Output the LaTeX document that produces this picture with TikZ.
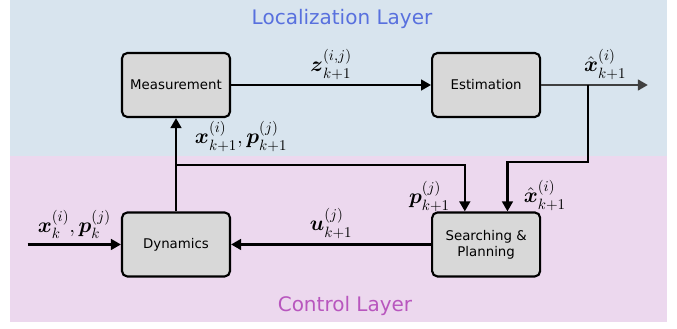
\RequirePackage{fix-cm}
\documentclass[tikz,border=0pt]{standalone}
\usepackage{fontspec}
\usepackage{amsmath}
\setsansfont{DejaVu Sans}
\usetikzlibrary{positioning,arrows.meta,calc}
\definecolor{locbg}{RGB}{216,228,238}
\definecolor{ctrlbg}{RGB}{236,216,238}
\definecolor{loctext}{RGB}{88,112,222}
\definecolor{ctrltext}{RGB}{184,86,190}
\definecolor{boxfill}{RGB}{216,216,216}
\definecolor{outgray}{RGB}{64,64,64}

\begin{document}
\begin{tikzpicture}[x=0.75pt, y=-0.75pt,
		block/.style={rectangle, rounded corners=4pt, draw=black, line width=1.6pt, fill=boxfill, minimum width=81pt, minimum height=48pt, font=\sffamily, align=center},
		layer/.style={font=\sffamily\fontsize{15}{18}\selectfont},
		sig/.style={font=\fontsize{16}{18}\selectfont}
	]
	\useasboundingbox (0,0) rectangle (677,328);
	\fill[locbg] (10,0) rectangle (667,156);
	\fill[ctrlbg] (10,156) rectangle (667,322);
	\node[layer, text=loctext] (loclayer) at (342,19) {Localization Layer};
	\node[layer, text=ctrltext] (ctrllayer) at (345,306) {Control Layer};

	\node[block] (meas) at (176,85) {Measurement};
	\node[block] (est) [right=150pt of meas] {Estimation};
	\node[block] (dyn) [below=70pt of meas] {Dynamics};
	\node[block] (plan) [below=70pt of est] {Searching \&\\Planning};
	\coordinate[left=70pt of dyn.west] (xin);
	\coordinate[right=80pt of est.east] (xout);
	\coordinate[right=35pt of est.east] (tap);
	\coordinate (split) at ($(dyn.north)!0.5!(meas.south)$);

	\begin{scope}[line width=1.8pt, -{Triangle[length=7.5pt, width=8pt]}]
	\draw (meas) -- (est) node[midway, above, sig] {$\boldsymbol{z}^{(i,j)}_{k+1}$};
	\draw[outgray] (est) -- (xout) node[pos=0.6, above, sig, text=black] {$\hat{\boldsymbol{x}}^{(i)}_{k+1}$};
	\draw (tap) -- ++(0,77) -| ([xshift=16pt]plan.north) node[pos=0.84, right, sig, xshift=8pt] {$\hat{\boldsymbol{x}}^{(i)}_{k+1}$};
	\draw (dyn) -- (meas) node[pos=0.8, right, sig, xshift=10pt] {$\boldsymbol{x}^{(i)}_{k+1},\boldsymbol{p}^{(j)}_{k+1}$};
	\draw (split) -| ([xshift=-16pt]plan.north) node[pos=0.84, left, sig, xshift=-7pt] {$\boldsymbol{p}^{(j)}_{k+1}$};
	\draw (plan) -- (dyn) node[midway, above, sig] {$\boldsymbol{u}^{(j)}_{k+1}$};
	\draw (xin) -- (dyn) node[midway, above, sig] {$\boldsymbol{x}^{(i)}_{k},\boldsymbol{p}^{(j)}_{k}$};
	\end{scope}
\end{tikzpicture}
\end{document}
